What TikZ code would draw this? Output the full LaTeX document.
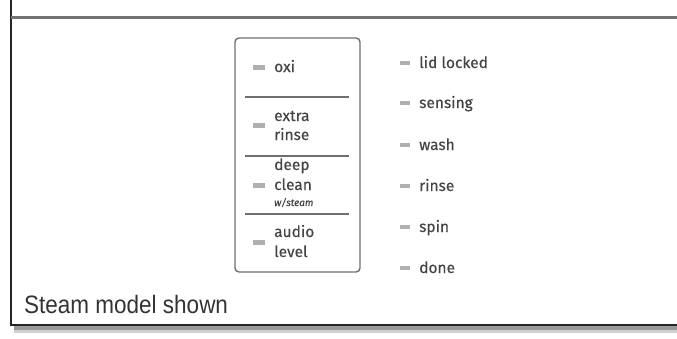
\documentclass[tikz,border=0pt]{standalone}
\usepackage{fontspec}
\setmainfont{Fira Sans}[FakeBold=0.35]
\newfontfamily\labelfont{Liberation Sans}
\definecolor{ink}{HTML}{444444}
\definecolor{led}{HTML}{B0B0B0}
\definecolor{boxline}{HTML}{6E6E6E}
\begin{document}
\begin{tikzpicture}[x=1pt,y=-1pt,
  ledbox/.style={fill=led,minimum width=12pt,minimum height=5pt,inner sep=0pt},
  sledbox/.style={fill=led,minimum width=10pt,minimum height=4pt,inner sep=0pt},
  lbl/.style={anchor=base west,text=ink,font=\fontsize{15.5}{18}\selectfont,inner sep=0pt},
  small/.style={anchor=base west,text=ink,font=\itshape\fontsize{10}{11}\selectfont,inner sep=0pt},
  divider/.style={draw=boxline,line width=1.2pt}]
\useasboundingbox (0,0) rectangle (677,338);
% outer frame with shadow
\fill[black!18] (14,326) rectangle (677,333);
\fill[black!40] (14,326) rectangle (677,330);
\draw[line width=2pt,black!85] (11,0) -- (11,325) -- (677,325);
\draw[line width=3pt,black!55] (11,17) -- (677,17);
% inner box
\node[draw=boxline,line width=1.4pt,rounded corners=4pt,minimum width=125pt,minimum height=234pt,inner sep=0pt] (panel) at (297.5,155) {};
\draw[divider] (245,97) -- (349,97);
\draw[divider] (245,156) -- (349,156);
\draw[divider] (245,214) -- (349,214);
% left column
\node[ledbox] (l1) at (258.5,67) {};
\node[lbl] (t1) at (274,72) {oxi};
\node[ledbox] (l2) at (258.5,125.5) {};
\node[lbl] (t2a) at (274,121) {extra};
\node[lbl] (t2b) at (274,140) {rinse};
\node[ledbox] (l3) at (258.5,185) {};
\node[lbl] (t3a) at (274,170) {deep};
\node[lbl] (t3b) at (274,190) {clean};
\node[small] (t3c) at (274,206) {w/steam};
\node[ledbox] (l4) at (258.5,242) {};
\node[lbl] (t4a) at (274,237) {audio};
\node[lbl] (t4b) at (274,257) {level};
% right column
\foreach \y/\t [count=\i] in {68/lid locked,108/sensing,150/wash,191/rinse,232/spin,273/done}{
  \node[sledbox] (r\i) at (405,\y-5) {};
  \node[lbl] (s\i) at (419,\y) {\t};
}
\node[anchor=base west,inner sep=0pt,text=black!80,font=\labelfont\fontsize{22.5}{24}\selectfont] (cap) at (24,313) {\scalebox{1}[1.12]{Steam model shown}};
\end{tikzpicture}
\end{document}
